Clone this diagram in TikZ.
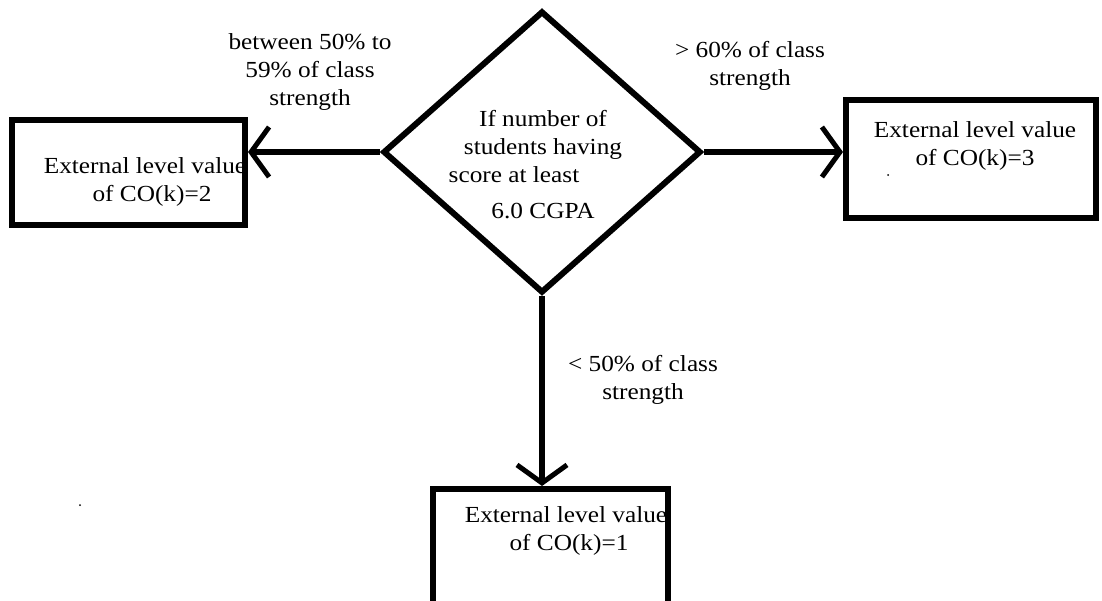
\documentclass[tikz,border=0pt]{standalone}
\usepackage{fontspec}
\setmainfont[FakeStretch=1.1]{Liberation Serif}
\usetikzlibrary{shapes.geometric,arrows.meta}
\begin{document}
\begin{tikzpicture}[x=1pt,y=-1pt,
  box/.style={draw=black,line width=6pt,rectangle,inner sep=0pt},
  dec/.style={draw=black,line width=6pt,diamond,inner sep=0pt,minimum width=318pt,minimum height=282pt},
  txt/.style={font=\fontsize{23}{28}\selectfont,align=center,text=black,inner sep=0pt},
  arr/.style={line width=5.5pt,-{Straight Barb[length=18pt,width=50pt,line width=5pt]}}]
\useasboundingbox (0,0) rectangle (1102,600);
\fill[white] (0,0) rectangle (1102,600);
% text inside boxes (drawn first so borders overlap)
\node[txt] (t2) at (145,182) {External level value\\ \hspace*{14pt}of CO(k)=2};
\node[txt] (t3) at (975,146) {External level value\\of CO(k)=3};
\node[txt] (t1) at (566,531) {External level value\\ \hspace*{6pt}of CO(k)=1};
% shapes
\node[box,minimum width=233pt,minimum height=105pt] (b2) at (128.5,172.5) {};
\node[box,minimum width=250pt,minimum height=118pt] (b3) at (971,158.5) {};
\node[box,minimum width=235pt,minimum height=132pt] (b1) at (550,555) {};
\node[dec] (d) at (542,152) {};
% decision text
\node[txt] (dt) at (543,165) {If number of\\students having\\\hspace*{-58pt}score at least\\[8pt]6.0 CGPA};
% connectors
\draw[arr] (d.west) -- (d.west -| b2.east);
\draw[arr] (d.east) -- (d.east -| b3.west);
\draw[arr] (d.south) -- (d.south |- b1.north);
% labels
\node[txt] (l2) at (310,72) {between 50\% to\\59\% of class\\strength};
\node[txt] (l3) at (750,66) {\textgreater{} 60\% of class\\strength};
\node[txt] (l1) at (643,380) {\textless{} 50\% of class\\strength};
% stray dots
\fill[black] (80,505) circle (1pt);
\fill[black] (888,175) circle (1pt);
\end{tikzpicture}
\end{document}
